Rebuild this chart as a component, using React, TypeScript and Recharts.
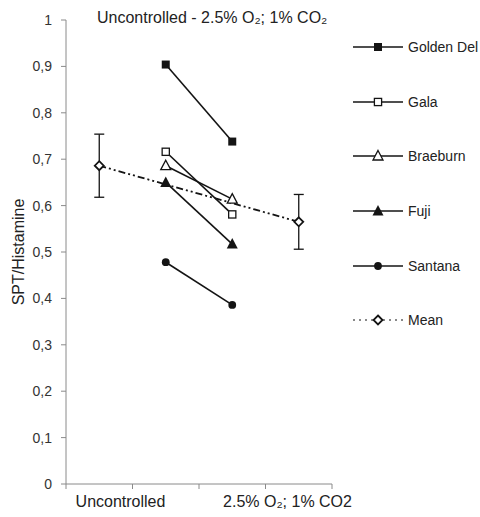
import React from 'react';
import { ComposedChart, Line, XAxis, YAxis, ErrorBar, Legend } from 'recharts';

// Storage conditions (x-axis categories)
const categories = ['Uncontrolled', '2.5% O\u2082; 1% CO2'];
const chartTitle = 'Uncontrolled - 2.5% O\u2082; 1% CO\u2082';
const yAxisTitle = 'SPT/Histamine';

// SPT/Histamine ratio per apple variety: [uncontrolled, controlled atmosphere]
const varietyNames = ['Golden Del', 'Gala', 'Braeburn', 'Fuji', 'Santana'];
const goldenDel = [0.904, 0.738];
const gala = [0.716, 0.581];
const braeburn = [0.686, 0.614];
const fuji = [0.65, 0.517];
const santana = [0.478, 0.386];

// Mean over the varieties with its spread
const meanName = 'Mean';
const meanValues = [0.686, 0.565];
const meanErrors = [0.068, 0.059];

const yTicks = [0, 0.1, 0.2, 0.3, 0.4, 0.5, 0.6, 0.7, 0.8, 0.9, 1];
const xTicks = [0, 1, 2, 3, 4];

const INK = '#141414';
const AXIS = '#8a8a8a';
const FONT = '"Liberation Sans", Arial, sans-serif';

type MarkerKind =
  | 'squareFilled'
  | 'squareOpen'
  | 'triangleOpen'
  | 'triangleFilled'
  | 'circleFilled'
  | 'diamondOpen';

function Marker({ kind, cx, cy }: { kind: MarkerKind; cx: number; cy: number }) {
  switch (kind) {
    case 'squareFilled':
      return <rect x={cx - 4} y={cy - 4} width={8} height={8} fill={INK} />;
    case 'squareOpen':
      return (
        <rect x={cx - 3.6} y={cy - 3.6} width={7.2} height={7.2} fill="#fff" stroke={INK} strokeWidth={1.3} />
      );
    case 'triangleOpen':
      return (
        <path
          d={`M${cx},${cy - 5.5}L${cx + 5},${cy + 4}L${cx - 5},${cy + 4}Z`}
          fill="#fff"
          stroke={INK}
          strokeWidth={1.3}
        />
      );
    case 'triangleFilled':
      return <path d={`M${cx},${cy - 6}L${cx + 5.5},${cy + 4.5}L${cx - 5.5},${cy + 4.5}Z`} fill={INK} />;
    case 'circleFilled':
      return <circle cx={cx} cy={cy} r={3.9} fill={INK} />;
    case 'diamondOpen':
    default:
      return (
        <path
          d={`M${cx},${cy - 4.5}L${cx + 4.5},${cy}L${cx},${cy + 4.5}L${cx - 4.5},${cy}Z`}
          fill="#fff"
          stroke={INK}
          strokeWidth={1.8}
        />
      );
  }
}

const MEAN_DASH = '7 3 2 3 2 3';

const varietySeries = [goldenDel, gala, braeburn, fuji, santana];
const varietyMarkers: MarkerKind[] = ['squareFilled', 'squareOpen', 'triangleOpen', 'triangleFilled', 'circleFilled'];

// varieties sit in the two inner slots, the mean in the two outer slots
const innerSlots = [1.5, 2.5];
const outerSlots = [0.5, 3.5];

const varietyData = varietySeries.map((vals) => vals.map((y, i) => ({ x: innerSlots[i], y })));
const meanData = meanValues.map((y, i) => ({ x: outerSlots[i], y, err: meanErrors[i] }));

const legendItems = [
  ...varietyNames.map((name, i) => ({ name, kind: varietyMarkers[i], dashed: false })),
  { name: meanName, kind: 'diamondOpen' as MarkerKind, dashed: true },
];

function LegendBox() {
  return (
    <div style={{ fontFamily: FONT, fontSize: 14, color: '#222' }}>
      {legendItems.map((item) => (
        <div key={item.name} style={{ display: 'flex', alignItems: 'center', height: 54.6 }}>
          <svg width={52} height={14} style={{ display: 'block' }}>
            <line
              x1={0}
              y1={7}
              x2={50}
              y2={7}
              stroke={INK}
              strokeWidth={item.dashed ? 1.2 : 1.4}
              strokeDasharray={item.dashed ? '2 4' : undefined}
            />
            <Marker kind={item.kind} cx={25} cy={7} />
          </svg>
          <span style={{ marginLeft: 3 }}>{item.name}</span>
        </div>
      ))}
    </div>
  );
}

function formatY(v: number) {
  if (v === 0 || v === 1) return String(v);
  return v.toFixed(1).replace('.', ',');
}

function CategoryTick(props: any) {
  const { x, y, payload } = props;
  if (payload.value === 1) {
    return (
      <text x={x - 12} y={y + 16} textAnchor="middle" fontFamily={FONT} fontSize={16} fill="#222">
        {categories[0]}
      </text>
    );
  }
  if (payload.value === 3) {
    return (
      <text x={x + 22} y={y + 16} textAnchor="middle" fontFamily={FONT} fontSize={16} fill="#222">
        {categories[1]}
      </text>
    );
  }
  return <g />;
}

function YTitle(props: any) {
  const { viewBox } = props;
  const cx = viewBox.x + 18;
  const cy = viewBox.y + viewBox.height / 2;
  return (
    <text
      x={cx}
      y={cy}
      transform={`rotate(-90 ${cx} ${cy})`}
      textAnchor="middle"
      dominantBaseline="central"
      fontFamily={FONT}
      fontSize={16}
      fill="#222"
    >
      {yAxisTitle}
    </text>
  );
}

export default function App() {
  return (
    <div style={{ position: 'absolute', left: 0, top: 0, width: 480, height: 517, background: '#fff' }}>
      <ComposedChart width={480} height={517} margin={{ top: 20, right: 148, bottom: 0, left: 0 }}>
        <XAxis
          type="number"
          dataKey="x"
          domain={[0, 4]}
          ticks={xTicks}
          height={33}
          stroke={AXIS}
          tickSize={5}
          tick={<CategoryTick />}
          interval={0}
        />
        <YAxis
          type="number"
          domain={[0, 1]}
          ticks={yTicks}
          width={66}
          stroke={AXIS}
          tickSize={5}
          tickMargin={9}
          tickFormatter={formatY}
          tick={{ fontFamily: FONT, fontSize: 14, fill: '#333' }}
          interval={0}
          label={<YTitle />}
        />
        <Legend
          layout="vertical"
          align="center"
          verticalAlign="middle"
          content={() => <LegendBox />}
          wrapperStyle={{ position: 'absolute', left: 353, top: 20, width: 127, height: 330 }}
        />
        <Line
          data={meanData}
          dataKey="y"
          name={meanName}
          stroke={INK}
          strokeWidth={1.8}
          strokeDasharray={MEAN_DASH}
          isAnimationActive={false}
          legendType="none"
          dot={(p: any) => (
            <g key={`mean-${p.index}`}>
              <Marker kind="diamondOpen" cx={p.cx} cy={p.cy} />
            </g>
          )}
          activeDot={false}
        >
          <ErrorBar dataKey="err" width={5} stroke={INK} strokeWidth={1.3} direction="y" isAnimationActive={false} />
        </Line>
        {varietyData.map((data, i) => (
          <Line
            key={varietyNames[i]}
            data={data}
            dataKey="y"
            name={varietyNames[i]}
            stroke={INK}
            strokeWidth={1.6}
            isAnimationActive={false}
            legendType="none"
            dot={(p: any) => (
              <g key={`${varietyNames[i]}-${p.index}`}>
                <Marker kind={varietyMarkers[i]} cx={p.cx} cy={p.cy} />
              </g>
            )}
            activeDot={false}
          />
        ))}
      </ComposedChart>
      <div
        style={{
          position: 'absolute',
          left: 97,
          top: 9,
          fontFamily: FONT,
          fontSize: 16,
          color: '#222',
          whiteSpace: 'nowrap',
        }}
      >
        {chartTitle}
      </div>
    </div>
  );
}
